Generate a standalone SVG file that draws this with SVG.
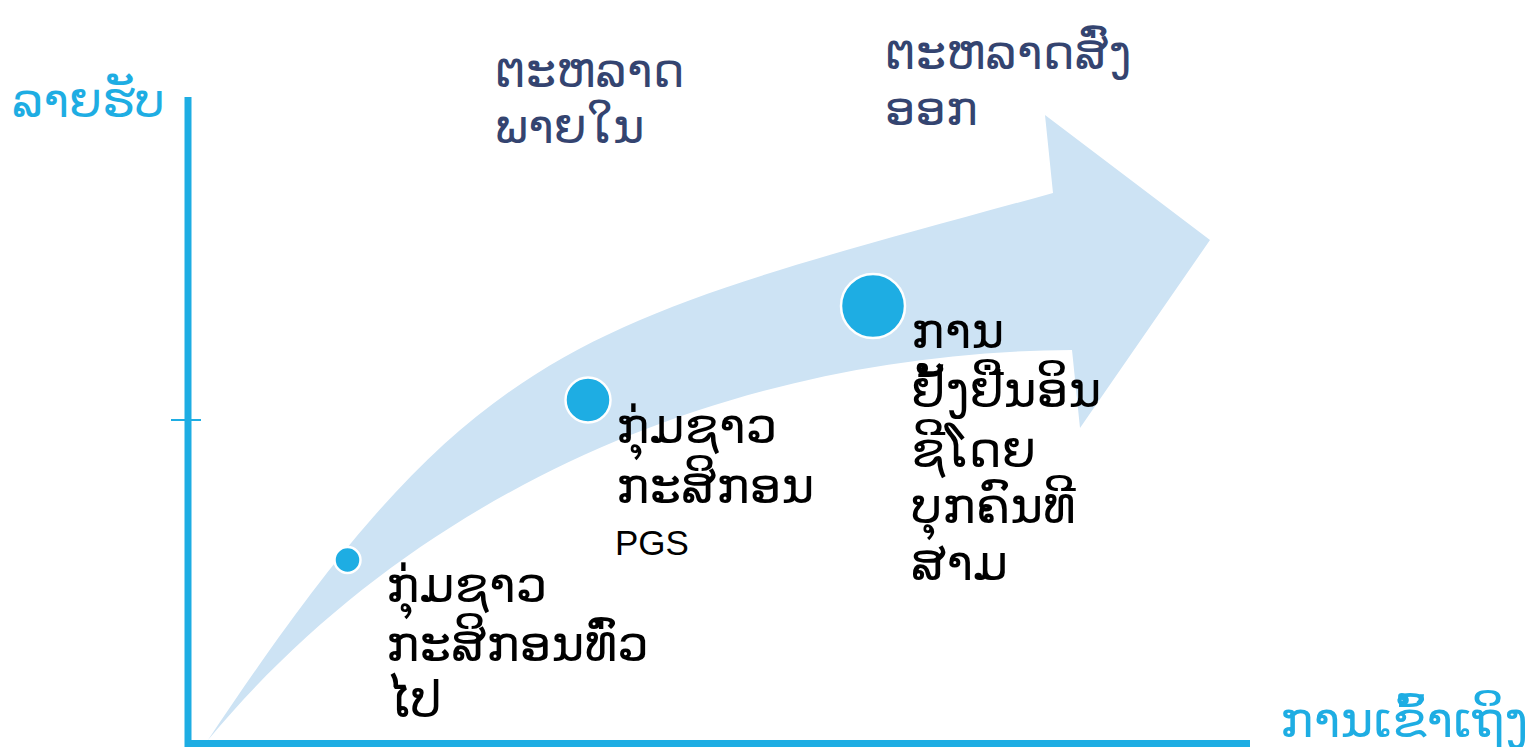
<svg xmlns="http://www.w3.org/2000/svg" width="1533" height="747" viewBox="0 0 1533 747">
<style>
.lao{font-family:"DejaVu Sans","Noto Sans",sans-serif;font-size:50px}
.big{font-size:48px}
.blk{fill:#000}
.navy{fill:#344470}
.cyan{fill:#1EADE3}
.dot{fill:#1EADE3;stroke:#fff;stroke-width:2.5}
.axis{stroke:#1EADE3;fill:none}
</style>
<rect width="1533" height="747" fill="#fff"/>
<g id="arrow">
<path d="M208,740 C477,336 573,325 1053,193 L1045,115 L1210,240 L1080,428 L1072,350 C740,352 420,485 208,740 Z" fill="#CDE3F4"/>
</g>
<g id="connectors">
<line class="axis" x1="188" y1="97" x2="188" y2="747" stroke-width="7"/>
<line class="axis" x1="185" y1="743.5" x2="1250" y2="743.5" stroke-width="7"/>
<line class="axis" x1="171" y1="420" x2="201" y2="420" stroke-width="2"/>
</g>
<g id="y-label"><text class="lao big cyan" x="12" y="117">ລາຍຮັບ</text></g>
<g id="x-label"><text class="lao cyan" x="1280" y="737">ການເຂົ້າເຖິງ</text></g>
<g id="domestic"><text class="lao big navy" x="495" y="87">ຕະຫລາດ</text><text class="lao big navy" x="495" y="143">ພາຍໃນ</text></g>
<g id="export"><text class="lao big navy" x="885" y="69">ຕະຫລາດສົ່ງ</text><text class="lao big navy" x="885" y="125">ອອກ</text></g>
<g id="stage1">
<circle class="dot" cx="347.5" cy="560" r="13"/>
<text class="lao blk" x="386" y="602">ກຸ່ມຊາວ</text>
<text class="lao blk" x="386" y="661">ກະສິກອນທົ່ວ</text>
<text class="lao blk" x="386" y="717">ໄປ</text>
</g>
<g id="stage2">
<circle class="dot" cx="588" cy="400" r="22.5"/>
<text class="lao blk" x="616" y="443">ກຸ່ມຊາວ</text>
<text class="lao blk" x="616" y="503">ກະສິກອນ</text>
<text x="615" y="555" font-family="'Liberation Sans',Arial,sans-serif" font-size="35" fill="#000">PGS</text>
</g>
<g id="stage3">
<circle class="dot" cx="873" cy="306" r="32"/>
<text class="lao blk" x="911" y="348">ການ</text>
<text class="lao blk" x="911" y="407">ຢັ້ງຢືນອິນ</text>
<text class="lao blk" x="911" y="467">ຊີໂດຍ</text>
<text class="lao blk" x="911" y="523">ບຸກຄົນທີ</text>
<text class="lao blk" x="911" y="580">ສາມ</text>
</g>
</svg>
